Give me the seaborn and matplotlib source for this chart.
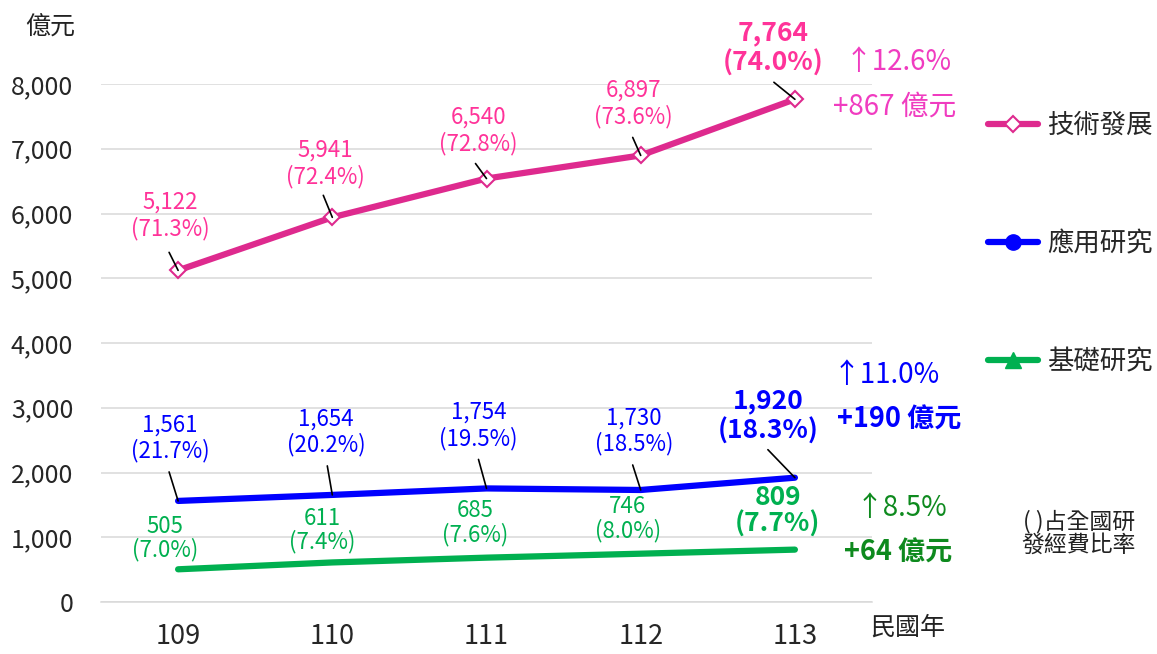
import numpy as np
import pandas as pd
import matplotlib.pyplot as plt
import seaborn as sns
from matplotlib.lines import Line2D

years = ['109', '110', '111', '112', '113']
tech_dev = [5122, 5941, 6540, 6897, 7764]
applied = [1561, 1654, 1754, 1730, 1920]
basic = [505, 611, 685, 746, 809]
tech_pct = ['71.3%', '72.4%', '72.8%', '73.6%', '74.0%']
applied_pct = ['21.7%', '20.2%', '19.5%', '18.5%', '18.3%']
basic_pct = ['7.0%', '7.4%', '7.6%', '8.0%', '7.7%']
series_names = ['技術發展', '應用研究', '基礎研究']
growth_pct = ['12.6%', '11.0%', '8.5%']
growth_amt = [867, 190, 64]

pink, blue, green = '#DE2A8E', '#0000FF', '#00B050'
pink_txt, green_txt = '#FF3399', '#00B050'
grey = '#D9D9D9'

df = pd.DataFrame({'pos': range(len(years)), '技術發展': tech_dev,
                   '應用研究': applied, '基礎研究': basic})

sns.set_style('white')
plt.rcParams['font.family'] = ['Noto Sans CJK TC', 'DejaVu Sans']

W, H = 1157, 654
fig = plt.figure(figsize=(W / 100, H / 100), dpi=100)
ax = fig.add_axes([101 / W, 1 - 602 / H, 771 / W, 518 / H])

sns.lineplot(data=df, x='pos', y='技術發展', ax=ax, color=pink, lw=4.5,
             marker='D', ms=8, mfc='white', mec=pink, mew=1.5, legend=False)
sns.lineplot(data=df, x='pos', y='應用研究', ax=ax, color=blue, lw=4.5, legend=False)
sns.lineplot(data=df, x='pos', y='基礎研究', ax=ax, color=green, lw=4.5, legend=False)

ax.set_xlim(-0.5, 4.5)
ax.set_ylim(0, 8000)
ax.set_xticks(range(len(years)))
ax.set_xticklabels(years, fontsize=19.5)
ax.set_xticks(np.arange(-0.5, 5, 1), minor=True)
ax.set_yticks(range(0, 8001, 1000))
ax.set_yticklabels([f'{v:,}' for v in range(0, 8001, 1000)], fontsize=18)
ax.tick_params(axis='x', which='major', length=0, pad=15)
ax.tick_params(axis='x', which='minor', direction='in', length=7, color=grey, width=1.1)
ax.tick_params(axis='y', length=0, pad=20)
ax.grid(axis='y', color=grey, lw=1.1)
ax.set_axisbelow(True)
for s in ['left', 'right', 'top']:
    ax.spines[s].set_visible(False)
ax.spines['bottom'].set_color(grey)
ax.spines['bottom'].set_linewidth(1.1)
ax.set_xlabel('')
ax.set_ylabel('')


def label_points(vals, pcts, color, offsets, leaders, ls):
    for i, (v, p) in enumerate(zip(vals, pcts)):
        last = i == len(vals) - 1
        ax.annotate(f'{v:,}\n({p})', (i, v), xytext=offsets[i],
                    textcoords='offset pixels', ha='center', va='center',
                    color=color, fontsize=19 if last else 16,
                    fontweight='bold' if last else 'normal', linespacing=ls)
        if leaders:
            ax.annotate('', (i, v), xytext=leaders[i], textcoords='offset pixels',
                        arrowprops=dict(arrowstyle='-', color='black', lw=1.2,
                                        shrinkA=0, shrinkB=0))


label_points(tech_dev, tech_pct, pink_txt,
             [(-8, 55), (-7, 54), (-8, 48), (-7, 52), (-22, 51)],
             [(-9, 18), (-9, 22), (-11, 15), (-8, 18), (-21, 17)], 1.15)
label_points(applied, applied_pct, blue,
             [(-8, 63), (-6, 63), (-8, 63), (-7, 59), (-27, 62)],
             [(-9, 29), (-5, 29), (-8, 29), (-8, 25), (-27, 28)], 1.15)
label_points(basic, basic_pct, green_txt,
             [(-13, 31), (-10, 32), (-11, 35), (-13, 35), (-17, 39)],
             None, 1.0)

# growth notes on the right
note_colors = ['#F03CC0', blue, '#0E8A1E']
note_pos = [((898, 62), (895, 107)), ((886, 375), (899, 420)), ((901, 508), (898, 553))]
for i in range(3):
    (x1, y1), (x2, y2) = note_pos[i]
    fig.text(x1 / W, 1 - y1 / H, f'↑{growth_pct[i]}', ha='center', va='center',
             fontsize=20, color=note_colors[i])
    fig.text(x2 / W, 1 - y2 / H, f'+{growth_amt[i]} 億元', ha='center', va='center',
             fontsize=20 if i == 0 else 19.5, color=note_colors[i],
             fontweight='normal' if i == 0 else 'bold')

fig.text(50 / W, 1 - 28 / H, '億元', ha='center', va='center', fontsize=18, color='#222222')
fig.text(908 / W, 1 - 628 / H, '民國年', ha='center', va='center', fontsize=18, color='#222222')
fig.text(1079 / W, 1 - 533 / H, '( )占全國研\n發經費比率', ha='center', va='center',
         fontsize=16.5, color='#222222', linespacing=1.0)

handles = [
    Line2D([], [], color=pink, lw=4.5, marker='D', ms=8, mfc='white', mec=pink, mew=1.5),
    Line2D([], [], color=blue, lw=4.5, marker='o', ms=11),
    Line2D([], [], color=green, lw=4.5, marker='^', ms=11),
]
fig.legend(handles, series_names, loc='upper left', bbox_to_anchor=(988 / W, 1 - 112 / H),
           frameon=False, fontsize=19, handlelength=1.9, handletextpad=0.35,
           labelspacing=3.45, borderpad=0, borderaxespad=0)

fig.savefig('out.png', dpi=100)
